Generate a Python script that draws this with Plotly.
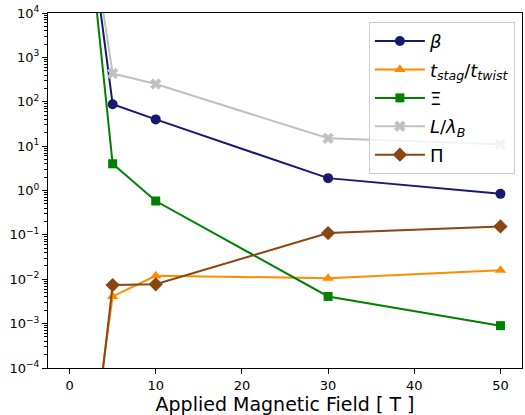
import plotly.graph_objects as go

# applied magnetic field [T]
field = [0, 5, 10, 30, 50]

# quantities (first point lies far off the plotted range)
beta = [2.5e9, 88, 40, 1.9, 0.84]
t_ratio = [4e-10, 0.0041, 0.012, 0.0106, 0.016]
xi = [9e9, 4.0, 0.58, 0.0041, 0.0009]
l_lambda = [1e9, 435, 251, 15, 11]
pi_val = [2.5e-11, 0.0074, 0.0077, 0.11, 0.155]

ytick_exp = [-4, -3, -2, -1, 0, 1, 2, 3, 4]
xtick_vals = [0, 10, 20, 30, 40, 50]

series = [
    ("<i>β</i>", beta, "#191970", "circle", 10),
    ("<i>t</i><sub><i>stag</i></sub>/<i>t</i><sub><i>twist</i></sub>", t_ratio, "#ff8c00", "triangle-up", 10),
    ("Ξ", xi, "#008000", "square", 9),
    ("<i>L</i>/<i>λ</i><sub><i>B</i></sub>", l_lambda, "#c0c0c0", "x", 10),
    ("Π", pi_val, "#8b4513", "diamond", 11),
]

fig = go.Figure()
for i, (name, vals, col, sym, size) in enumerate(series):
    fig.add_trace(go.Scatter(
        x=field, y=vals, name=name, mode="lines+markers",
        line=dict(color=col, width=2),
        marker=dict(color=col, symbol=sym, size=size, line=dict(width=0)),
        legendgroup="g%d" % i,
    ))

minor_vals = [m * 10 ** e for e in range(-4, 4) for m in range(2, 10)]

fig.update_layout(
    width=525, height=415,
    margin=dict(l=48, r=3, t=13, b=47),
    paper_bgcolor="white", plot_bgcolor="white",
    font=dict(family="DejaVu Sans", color="black", size=13),
    showlegend=True,
    legend=dict(
        x=0.985, y=0.975, xanchor="right", yanchor="top",
        bgcolor="rgba(255,255,255,0.8)", bordercolor="#cccccc", borderwidth=1,
        font=dict(size=18), tracegroupgap=2, itemwidth=50,
    ),
    xaxis=dict(
        range=[-2.5, 52.5], tickvals=xtick_vals,
        showline=True, linecolor="black", linewidth=1, mirror=True,
        ticks="outside", ticklen=5, tickcolor="black",
        showgrid=False, zeroline=False,
        title=dict(text="Applied Magnetic Field [ T ]", font=dict(size=19), standoff=3),
    ),
    yaxis=dict(
        type="log", range=[-4, 4],
        tickvals=[10 ** e for e in ytick_exp],
        ticktext=["10<sup>%s</sup>" % (str(e).replace("-", "−")) for e in ytick_exp],
        showline=True, linecolor="black", linewidth=1, mirror=True,
        ticks="outside", ticklen=5, tickcolor="black",
        minor=dict(tickvals=minor_vals, ticks="outside", ticklen=3, tickcolor="black", showgrid=False),
        showgrid=False, zeroline=False,
    ),
)

fig.write_html("out.html", config={"displayModeBar": False},
               post_script="document.body.style.margin='0';")
